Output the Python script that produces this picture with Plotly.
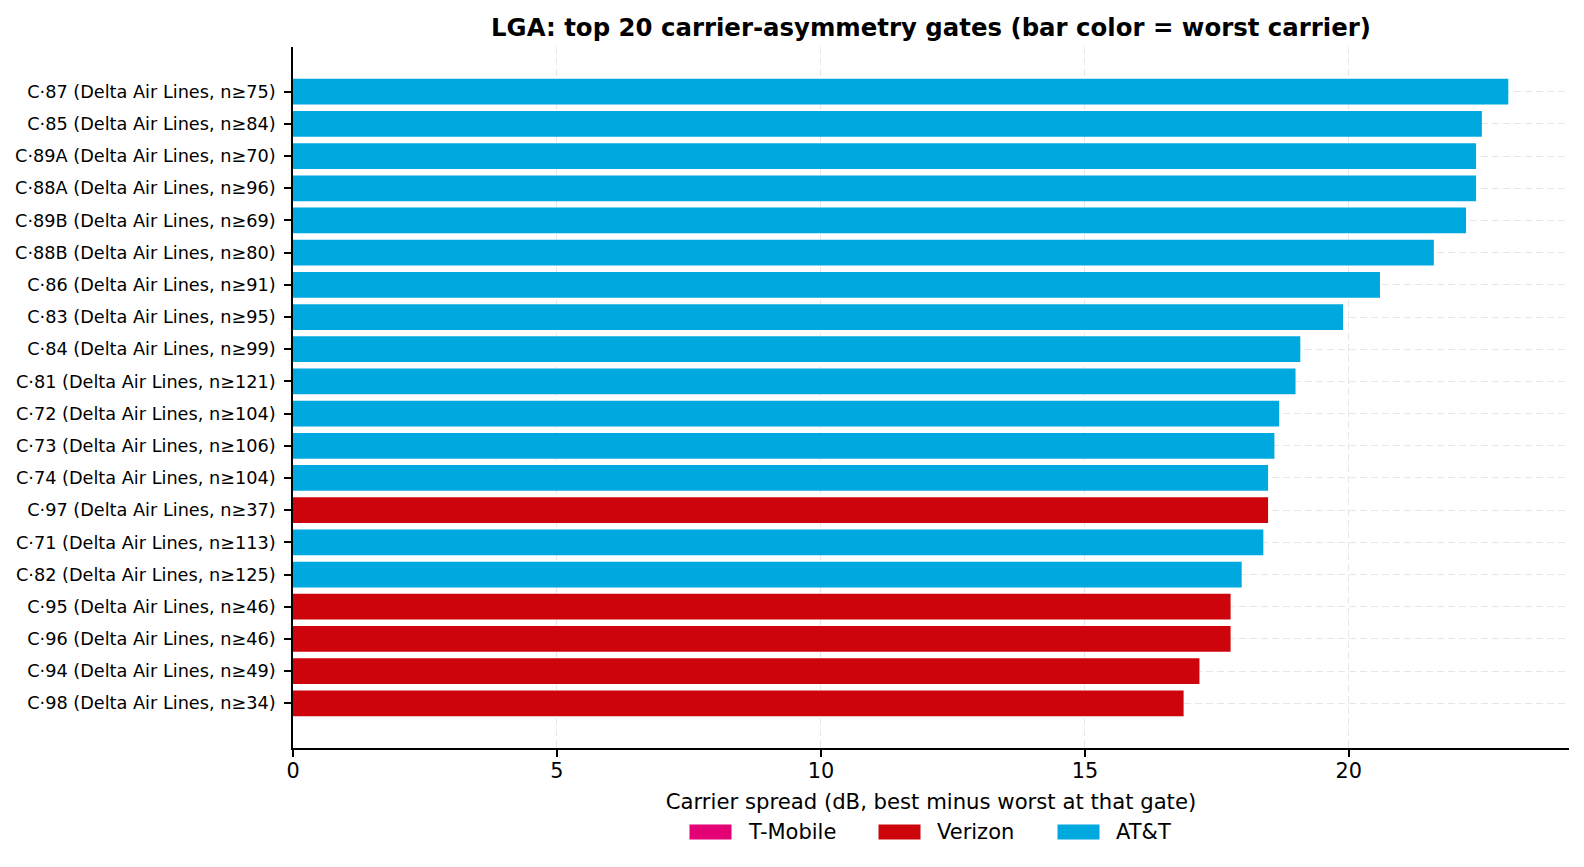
import plotly.graph_objects as go

# gates ordered top -> bottom as shown
gates = ["C·87", "C·85", "C·89A", "C·88A", "C·89B", "C·88B", "C·86", "C·83",
         "C·84", "C·81", "C·72", "C·73", "C·74", "C·97", "C·71", "C·82",
         "C·95", "C·96", "C·94", "C·98"]
airline = ["Delta Air Lines"] * 20
n_min = [75, 84, 70, 96, 69, 80, 91, 95, 99, 121, 104, 106, 104, 37, 113, 125,
         46, 46, 49, 34]
spread_db = [23.02, 22.52, 22.41, 22.41, 22.22, 21.61, 20.59, 19.89, 19.08, 18.99,
             18.68, 18.59, 18.47, 18.47, 18.38, 17.97, 17.76, 17.76, 17.17, 16.87]
worst = ["AT&T"] * 13 + ["Verizon"] + ["AT&T"] * 2 + ["Verizon"] * 4

carriers = ["T-Mobile", "Verizon", "AT&T"]
carrier_colors = {"T-Mobile": "#E20074", "Verizon": "#CD040B", "AT&T": "#00A8E0"}

labels = [f"{g} ({a}, n≥{n})" for g, a, n in zip(gates, airline, n_min)]

FONT = "DejaVu Sans"
GRID = "rgba(175,175,175,0.3)"

W, H = 1584, 867
M = dict(l=285, r=23, t=39, b=127)
plot_w = W - M["l"] - M["r"]
plot_h = H - M["t"] - M["b"]

fig = go.Figure()
for c in carriers:
    idx = [i for i, w in enumerate(worst) if w == c]
    if not idx:
        continue
    fig.add_trace(go.Bar(
        x=[spread_db[i] for i in idx],
        y=[labels[i] for i in idx],
        orientation="h",
        name=c,
        marker=dict(color=carrier_colors[c], line=dict(width=0)),
        showlegend=False,
    ))

# matplotlib-style legend below the axis: wide patches + labels
patch_w, patch_h, text_gap = 42, 15, 14
entry_x = [0, 189, 368]          # px offsets of each patch from legend start
legend_w = 483
leg_y = -84 / plot_h
for c, off in zip(carriers, entry_x):
    x0 = 0.5 + (off - legend_w / 2) / plot_w
    fig.add_shape(type="rect", xref="paper", yref="paper",
                  x0=x0, x1=x0 + patch_w / plot_w,
                  y0=leg_y - patch_h / 2 / plot_h, y1=leg_y + patch_h / 2 / plot_h,
                  fillcolor=carrier_colors[c], line=dict(width=0))
    fig.add_annotation(text=c, xref="paper", yref="paper",
                       x=x0 + (patch_w + text_gap) / plot_w, y=leg_y,
                       xanchor="left", yanchor="middle", showarrow=False,
                       font=dict(size=21, family=FONT, color="black"))

fig.update_layout(
    width=W, height=H,
    template="plotly_white",
    plot_bgcolor="white", paper_bgcolor="white",
    barmode="overlay",
    bargap=0.2,
    showlegend=False,
    font=dict(family=FONT, color="black", size=18),
    title=dict(text="<b>LGA: top 20 carrier-asymmetry gates (bar color = worst carrier)</b>",
               xref="paper", x=0.5, xanchor="center", y=0.977, yanchor="middle",
               font=dict(size=24.4, family=FONT, color="black")),
    margin=M,
)
fig.update_xaxes(
    range=[0, 24.17],
    tickvals=[0, 5, 10, 15, 20],
    ticks="outside", ticklen=7, tickwidth=1.5, tickcolor="black",
    tickfont=dict(size=20.8), ticklabelstandoff=-4,
    showline=True, linecolor="black", linewidth=1.6,
    showgrid=True, gridcolor=GRID, griddash="7px,4px", gridwidth=1.2,
    zeroline=False, automargin=False,
    layer="above traces",
    title=dict(text="Carrier spread (dB, best minus worst at that gate)",
               font=dict(size=21.2), standoff=12),
)
fig.update_yaxes(
    type="category",
    categoryorder="array", categoryarray=labels,
    range=[20.39, -1.39],
    ticks="outside", ticklen=7, tickwidth=1.5, tickcolor="black",
    tickfont=dict(size=17.7), ticklabelstandoff=5,
    showline=True, linecolor="black", linewidth=1.6,
    showgrid=True, gridcolor=GRID, griddash="7px,4px", gridwidth=1.2,
    zeroline=False, automargin=False,
    layer="above traces",
)

fig.write_html("out.html")
